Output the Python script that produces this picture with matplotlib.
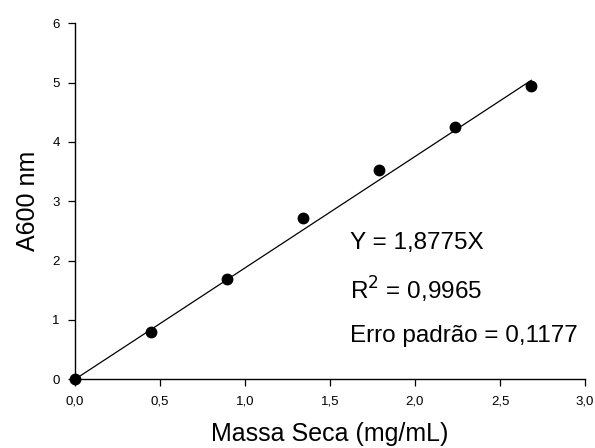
import matplotlib.pyplot as plt

plt.rcParams['font.family'] = ['Liberation Sans', 'DejaVu Sans']

massa = [0.0, 0.447, 0.895, 1.343, 1.788, 2.237, 2.684]
absorb = [0.0, 0.80, 1.69, 2.715, 3.52, 4.26, 4.94]
slope = 1.8775
xticks = [0.0, 0.5, 1.0, 1.5, 2.0, 2.5, 3.0]
xlabels = ['0,0', '0,5', '1,0', '1,5', '2,0', '2,5', '3,0']
yticks = [0, 1, 2, 3, 4, 5, 6]

fig = plt.figure(figsize=(5.95, 4.48), dpi=100)
ax = fig.add_axes([75 / 595, 1 - 379.3 / 448, 510 / 595, 356 / 448])

fit_x = [0.0, massa[-1]]
fit_y = [slope * v for v in fit_x]
ax.plot(fit_x, fit_y, color='black', lw=0.9)
ax.plot(massa, absorb, 'o', color='black', ms=7.5, clip_on=False, zorder=3)

ax.set_xlim(0, 3.0)
ax.set_ylim(0, 6)
ax.set_xticks(xticks)
ax.set_xticklabels(xlabels)
ax.set_yticks(yticks)
ax.tick_params(direction='out', length=5, width=0.9, labelsize=9.5)
ax.tick_params(axis='x', pad=7)
ax.tick_params(axis='y', pad=6)
for s in ['top', 'right']:
    ax.spines[s].set_visible(False)
for s in ['left', 'bottom']:
    ax.spines[s].set_linewidth(1.0)

ax.set_xlabel('Massa Seca (mg/mL)', fontsize=18, labelpad=10)
ax.set_ylabel('A600 nm', fontsize=18, labelpad=9)

ax.text(1.62, 2.30, 'Y = 1,8775X', fontsize=17.5, ha='left', va='center')
ax.text(1.62, 1.51, 'R$^2$ = 0,9965', fontsize=17.5, ha='left', va='center')
ax.text(1.62, 0.73, 'Erro padrão = 0,1177', fontsize=17.5, ha='left', va='center')

fig.savefig('out.png', dpi=100)
